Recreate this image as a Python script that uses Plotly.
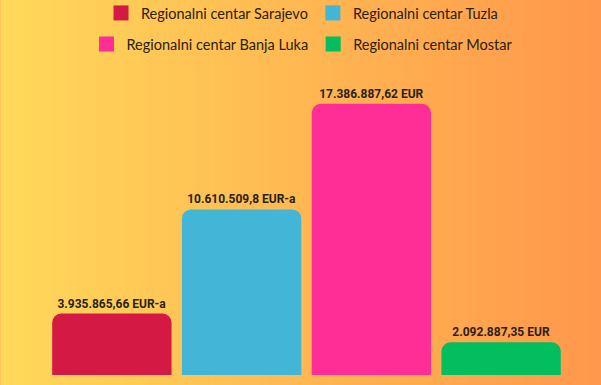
import plotly.graph_objects as go

categories = ["Regionalni centar Sarajevo", "Regionalni centar Tuzla",
              "Regionalni centar Banja Luka", "Regionalni centar Mostar"]
values = [3935865.66, 10610509.8, 17386887.62, 2092887.35]
labels = ["3.935.865,66 EUR-a", "10.610.509,8 EUR-a", "17.386.887,62 EUR", "2.092.887,35 EUR"]
colors = ["#D31944", "#43B5D6", "#FF2E97", "#02BE5E"]
legend_groups = ["legend", "legend", "legend2", "legend2"]

W, H = 601, 385
ML, MR, MT, MB = 46.5, 34.5, 2, 10
pw = W - ML - MR
ph = H - MT - MB

fig = go.Figure()

fig.add_trace(go.Bar(
    x=categories, y=values, text=labels,
    marker=dict(color=colors, cornerradius=9, line=dict(width=0)),
    textposition="outside", cliponaxis=False,
    textfont=dict(family="Roboto", size=12, color="#2a1f14", weight="bold"),
    showlegend=False, hoverinfo="skip",
))

for name, col, lg in zip(categories, colors, legend_groups):
    fig.add_trace(go.Scatter(
        x=[None], y=[None], mode="markers", name=name,
        marker=dict(symbol="square", size=15, color=col),
        legend=lg,
    ))

# background gradient strips (yellow -> orange)
stops = [(0.0, (255, 217, 90)), (0.5, (255, 184, 82)), (1.0, (255, 151, 76))]
def col_at(t):
    for (t0, c0), (t1, c1) in zip(stops[:-1], stops[1:]):
        if t <= t1:
            f = (t - t0) / (t1 - t0)
            return "rgb(%d,%d,%d)" % tuple(round(a + (b - a) * f) for a, b in zip(c0, c1))
    return "rgb(%d,%d,%d)" % stops[-1][1]

N = 150
shapes = []
for i in range(N):
    px0 = W * i / N
    px1 = W * (i + 1) / N + 0.6
    shapes.append(dict(
        type="rect", xref="paper", yref="paper", layer="below",
        x0=(px0 - ML) / pw, x1=(px1 - ML) / pw,
        y0=-MB / ph - 0.05, y1=1 + MT / ph + 0.05,
        fillcolor=col_at((i + 0.5) / N), line=dict(width=0),
    ))

def ly(py):
    return 1 + (MT - py) / ph

legend_font = dict(family="Lato", size=14.5, color="#2b2010")
fig.update_layout(
    width=W, height=H,
    margin=dict(l=ML, r=MR, t=MT, b=MB, pad=0, autoexpand=False),
    paper_bgcolor="rgb(255,184,82)", plot_bgcolor="rgba(0,0,0,0)",
    bargap=0.08,
    shapes=shapes,
    xaxis=dict(visible=False, type="category"),
    yaxis=dict(visible=False, range=[0, ph / 15.6 * 1e6]),
    legend=dict(orientation="h", x=(302 - ML) / pw, xanchor="center",
                y=ly(13), yanchor="middle", font=legend_font,
                bgcolor="rgba(0,0,0,0)"),
    legend2=dict(orientation="h", x=(302 - ML) / pw, xanchor="center",
                 y=ly(44), yanchor="middle", font=legend_font,
                 bgcolor="rgba(0,0,0,0)"),
)

fig.write_html("out.html", config={"displayModeBar": False},
               post_script="document.body.style.margin='0';document.body.style.overflow='hidden';")
